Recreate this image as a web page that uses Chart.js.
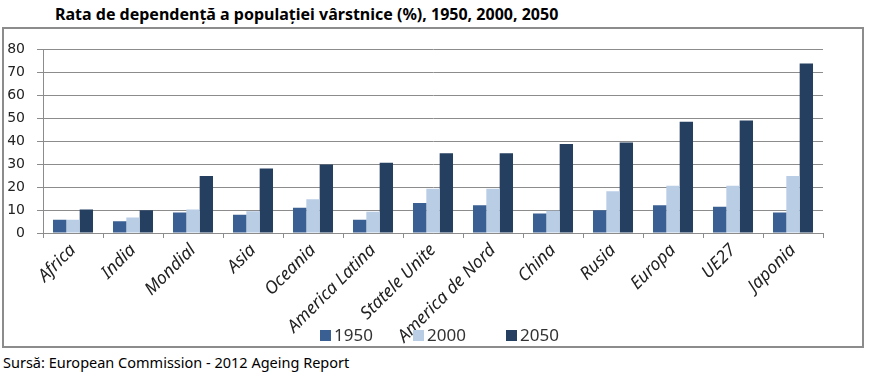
<!DOCTYPE html>
<html>
<head>
<meta charset="utf-8">
<script src="https://cdn.jsdelivr.net/npm/chart.js@4"></script>
<style>
  body { margin: 0; background: #fff; width: 889px; height: 376px; overflow: hidden; position: relative; }
  #titlu { position: absolute; left: 55px; top: 3px; font: bold 16px "Noto Sans", sans-serif; color: #000; white-space: nowrap; }
  #cutie { position: absolute; left: 2px; top: 27px; width: 858px; height: 317px; border: 2px solid #8c8c8c; }
  #sursa { position: absolute; left: 3px; top: 352px; font: 14.5px "Noto Sans", sans-serif; color: #000; white-space: nowrap; }
</style>
</head>
<body>
<div id="titlu">Rata de dependență a populației vârstnice (%), 1950, 2000, 2050</div>
<div id="cutie"><canvas id="grafic" width="858" height="317"></canvas></div>
<div id="sursa">Sursă: European Commission - 2012 Ageing Report</div>
<script>
// Regiunile (categoriile de pe axa x)
const regiuni = ['Africa', 'India', 'Mondial', 'Asia', 'Oceania', 'America Latina', 'Statele Unite',
  'America de Nord', 'China', 'Rusia', 'Europa', 'UE27', 'Japonia'];

// Rata de dependență (%) pentru fiecare an
const valori1950 = [5.8, 5.1, 8.9, 7.9, 11.0, 5.8, 13.1, 12.1, 8.5, 9.9, 12.1, 11.4, 8.9];
const valori2000 = [5.8, 6.8, 10.2, 9.5, 14.7, 9.3, 19.3, 19.3, 9.7, 18.2, 20.6, 20.6, 24.8];
const valori2050 = [10.2, 9.9, 24.8, 28.1, 29.9, 30.6, 34.8, 34.8, 38.8, 39.4, 48.5, 49.0, 73.9];

const ani = ['1950', '2000', '2050'];
const culori = ['#3a5f92', '#b9cde5', '#243f60'];

// Legenda desenată manual, peste etichetele axei (ca în original)
const legendaPlugin = {
  id: 'legendaJos',
  afterDraw(chart) {
    const ctx = chart.ctx;
    ctx.save();
    ctx.font = '17px "Noto Sans", sans-serif';
    ctx.textBaseline = 'middle';
    const y = 306;
    chart.data.datasets.forEach((ds, i) => {
      const x = 316 + i * 93;
      ctx.fillStyle = ds.backgroundColor;
      ctx.fillRect(x, y - 5, 11, 11);
      ctx.fillStyle = '#333';
      ctx.fillText(ds.label, x + 14, y + 1);
    });
    ctx.restore();
  }
};

const ctx = document.getElementById('grafic').getContext('2d');
new Chart(ctx, {
  type: 'bar',
  data: {
    labels: regiuni,
    datasets: [
      { label: ani[0], data: valori1950, backgroundColor: culori[0] },
      { label: ani[1], data: valori2000, backgroundColor: culori[1] },
      { label: ani[2], data: valori2050, backgroundColor: culori[2] }
    ]
  },
  options: {
    responsive: false,
    animation: false,
    devicePixelRatio: 1,
    categoryPercentage: 0.667,
    barPercentage: 1.0,
    layout: { padding: { top: 12, right: 39, left: 0, bottom: 0 } },
    plugins: {
      legend: { display: false },
      tooltip: { enabled: false }
    },
    scales: {
      x: {
        afterFit: (scale) => { scale.height = 113; },
        grid: { drawOnChartArea: false, drawTicks: true, tickLength: 5, color: '#8c8c8c' },
        border: { color: '#8c8c8c' },
        ticks: {
          minRotation: 45,
          maxRotation: 45,
          padding: 2,
          color: '#222',
          font: { family: '"Noto Sans", sans-serif', size: 17.5, style: 'italic' }
        }
      },
      y: {
        min: 0,
        max: 80,
        afterFit: (scale) => { scale.width = 39; },
        grid: { color: '#8c8c8c', tickLength: 6 },
        border: { color: '#8c8c8c' },
        ticks: {
          stepSize: 10,
          padding: 12,
          color: '#222',
          font: { family: '"DejaVu Sans", sans-serif', size: 14 }
        }
      }
    }
  },
  plugins: [legendaPlugin]
});
</script>
</body>
</html>
